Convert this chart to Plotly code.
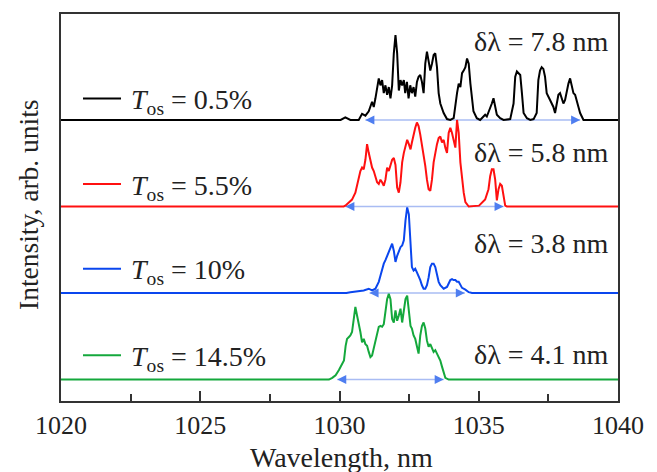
import plotly.graph_objects as go

# ---------------- data ----------------
tos_labels = ["0.5%", "5.5%", "10%", "14.5%"]
dl_values = ["7.8", "5.8", "3.8", "4.1"]

wl_black = [1020.0, 1030.04, 1030.21, 1030.39, 1030.69, 1030.81, 1030.93, 1031.05, 1031.17, 1031.23,
            1031.29, 1031.41, 1031.47, 1031.53, 1031.59, 1031.65, 1031.71, 1031.77, 1031.83, 1031.89,
            1031.95, 1032.01, 1032.07, 1032.13, 1032.19, 1032.25, 1032.31, 1032.36, 1032.42, 1032.48,
            1032.54, 1032.60, 1032.66, 1032.72, 1032.78, 1032.84, 1032.90, 1032.96, 1033.02, 1033.08,
            1033.14, 1033.20, 1033.26, 1033.32, 1033.38, 1033.44, 1033.50, 1033.56, 1033.62, 1033.74,
            1033.86, 1033.98, 1034.10, 1034.22, 1034.28, 1034.34, 1034.40, 1034.46, 1034.52, 1034.58,
            1034.64, 1034.70, 1034.76, 1034.81, 1034.93, 1035.05, 1035.17, 1035.23, 1035.29, 1035.41,
            1035.47, 1035.53, 1035.59, 1035.65, 1035.77, 1035.89, 1036.13, 1036.25, 1036.31, 1036.37,
            1036.43, 1036.49, 1036.55, 1036.61, 1036.73, 1036.85, 1036.97, 1037.08, 1037.14, 1037.20,
            1037.26, 1037.32, 1037.38, 1037.44, 1037.56, 1037.68, 1037.74, 1037.80, 1037.86, 1037.92,
            1037.98, 1038.04, 1038.10, 1038.16, 1038.22, 1038.28, 1038.34, 1038.40, 1038.46, 1038.52,
            1038.58, 1038.64, 1038.76, 1040.0]
int_black = [0.0, 0.0, 0.03, 0.0, 0.0, 0.07, 0.05, 0.10, 0.21, 0.15,
             0.25, 0.48, 0.40, 0.46, 0.31, 0.40, 0.29, 0.38, 0.25, 0.40,
             0.77, 0.98, 0.77, 0.34, 0.46, 0.40, 0.46, 0.31, 0.44, 0.25,
             0.40, 0.31, 0.38, 0.27, 0.44, 0.50, 0.52, 0.44, 0.31, 0.65,
             0.79, 0.69, 0.57, 0.65, 0.75, 0.77, 0.61, 0.31, 0.19, 0.08,
             0.01, 0.0, 0.02, 0.31, 0.42, 0.38, 0.54, 0.57, 0.61, 0.71,
             0.65, 0.42, 0.19, 0.10, 0.02, 0.0, 0.04, 0.06, 0.04, 0.13,
             0.19, 0.25, 0.15, 0.06, 0.02, 0.0, 0.01, 0.19, 0.50, 0.56,
             0.54, 0.52, 0.31, 0.08, 0.02, 0.0, 0.01, 0.08, 0.46, 0.57,
             0.61, 0.59, 0.50, 0.31, 0.23, 0.15, 0.08, 0.19, 0.29, 0.31,
             0.25, 0.19, 0.23, 0.34, 0.42, 0.48, 0.40, 0.31, 0.29, 0.23,
             0.15, 0.08, 0.0, 0.0]

wl_red = [1020.0, 1030.15, 1030.21, 1030.33, 1030.45, 1030.57, 1030.69, 1030.75, 1030.81, 1030.87,
          1030.93, 1030.99, 1031.05, 1031.11, 1031.17, 1031.23, 1031.29, 1031.35, 1031.41, 1031.47,
          1031.53, 1031.59, 1031.65, 1031.71, 1031.77, 1031.89, 1031.95, 1032.01, 1032.07, 1032.13,
          1032.19, 1032.25, 1032.31, 1032.37, 1032.43, 1032.49, 1032.55, 1032.60, 1032.66, 1032.72,
          1032.78, 1032.84, 1032.90, 1032.96, 1033.02, 1033.08, 1033.14, 1033.20, 1033.26, 1033.32,
          1033.38, 1033.44, 1033.50, 1033.56, 1033.62, 1033.68, 1033.74, 1033.80, 1033.86, 1033.92,
          1033.98, 1034.04, 1034.10, 1034.16, 1034.22, 1034.28, 1034.34, 1034.40, 1034.46, 1034.52,
          1034.64, 1035.01, 1035.11, 1035.23, 1035.35, 1035.41, 1035.47, 1035.53, 1035.59, 1035.65,
          1035.71, 1035.77, 1035.83, 1035.89, 1035.95, 1036.01, 1040.0]
int_red = [0.0, 0.0, 0.01, 0.04, 0.08, 0.16, 0.31, 0.41, 0.45, 0.43,
           0.54, 0.72, 0.62, 0.51, 0.45, 0.41, 0.35, 0.28, 0.26, 0.31,
           0.28, 0.24, 0.31, 0.45, 0.41, 0.54, 0.56, 0.48, 0.22, 0.16,
           0.28, 0.51, 0.62, 0.70, 0.77, 0.72, 0.66, 0.74, 0.85, 0.91,
           0.97, 0.93, 0.83, 0.72, 0.62, 0.47, 0.31, 0.20, 0.18, 0.31,
           0.51, 0.64, 0.72, 0.79, 0.81, 0.74, 0.77, 0.68, 0.62, 0.85,
           0.91, 0.85, 0.77, 0.68, 1.00, 0.85, 0.51, 0.31, 0.16, 0.05,
           0.0, 0.01, 0.04, 0.08, 0.20, 0.35, 0.43, 0.43, 0.31, 0.07,
           0.20, 0.26, 0.24, 0.12, 0.01, 0.0, 0.0]

wl_blue = [1020.0, 1030.25, 1030.39, 1030.63, 1030.87, 1031.05, 1031.17, 1031.29, 1031.41, 1031.47,
           1031.53, 1031.59, 1031.65, 1031.71, 1031.77, 1031.83, 1031.89, 1031.95, 1032.01, 1032.07,
           1032.13, 1032.19, 1032.25, 1032.31, 1032.37, 1032.43, 1032.49, 1032.55, 1032.60, 1032.66,
           1032.72, 1032.78, 1032.84, 1032.90, 1032.96, 1033.02, 1033.08, 1033.14, 1033.20, 1033.26,
           1033.32, 1033.38, 1033.44, 1033.50, 1033.56, 1033.62, 1033.74, 1033.86, 1033.92, 1033.98,
           1034.04, 1034.10, 1034.16, 1034.22, 1034.28, 1034.34, 1034.40, 1034.52, 1034.64, 1034.76,
           1040.0]
int_blue = [0.0, 0.0, 0.01, 0.02, 0.03, 0.05, 0.03, 0.05, 0.13, 0.20,
            0.28, 0.34, 0.38, 0.43, 0.49, 0.53, 0.57, 0.49, 0.36, 0.43,
            0.49, 0.53, 0.55, 0.61, 0.84, 0.99, 0.91, 0.64, 0.30, 0.26,
            0.28, 0.24, 0.20, 0.15, 0.09, 0.05, 0.05, 0.09, 0.18, 0.30,
            0.34, 0.34, 0.30, 0.20, 0.13, 0.09, 0.05, 0.07, 0.11, 0.15,
            0.16, 0.15, 0.15, 0.13, 0.13, 0.09, 0.06, 0.04, 0.01, 0.0,
            0.0]

wl_green = [1020.0, 1029.62, 1029.74, 1029.86, 1029.98, 1030.10, 1030.16, 1030.22, 1030.27, 1030.33,
            1030.39, 1030.45, 1030.51, 1030.57, 1030.63, 1030.69, 1030.75, 1030.81, 1030.87, 1030.93,
            1030.99, 1031.05, 1031.11, 1031.17, 1031.23, 1031.29, 1031.35, 1031.41, 1031.47, 1031.53,
            1031.59, 1031.65, 1031.71, 1031.77, 1031.83, 1031.89, 1031.95, 1032.01, 1032.07, 1032.13,
            1032.19, 1032.25, 1032.31, 1032.37, 1032.43, 1032.49, 1032.55, 1032.60, 1032.66, 1032.72,
            1032.78, 1032.84, 1032.90, 1032.96, 1033.02, 1033.08, 1033.14, 1033.20, 1033.26, 1033.32,
            1033.38, 1033.44, 1033.50, 1033.56, 1033.62, 1033.68, 1033.74, 1033.80, 1033.92, 1040.0]
int_green = [0.0, 0.0, 0.02, 0.05, 0.11, 0.18, 0.22, 0.39, 0.47, 0.49,
             0.51, 0.55, 0.70, 0.84, 0.74, 0.66, 0.55, 0.43, 0.47, 0.41,
             0.39, 0.32, 0.26, 0.28, 0.36, 0.43, 0.51, 0.61, 0.62, 0.61,
             0.64, 0.78, 0.93, 0.99, 0.93, 0.70, 0.66, 0.80, 0.68, 0.74,
             0.82, 0.66, 0.82, 0.93, 0.97, 0.78, 0.62, 0.59, 0.51, 0.47,
             0.36, 0.30, 0.51, 0.62, 0.66, 0.59, 0.45, 0.38, 0.41, 0.36,
             0.32, 0.34, 0.30, 0.26, 0.22, 0.15, 0.07, 0.02, 0.0, 0.0]

# spectral width markers (start, end) in nm
dl_start = [1030.93, 1030.21, 1031.08, 1029.92]
dl_end = [1038.64, 1035.89, 1034.50, 1033.74]

# ---------------- styling ----------------
colors = ["#000000", "#ff1010", "#0a46ee", "#14a83c"]
offsets = [3.0, 2.0, 1.0, 0.0]
spectra = [(wl_black, int_black), (wl_red, int_red), (wl_blue, int_blue), (wl_green, int_green)]
FONT = "Liberation Serif, Times New Roman, serif"
TXT = "#222222"

fig = go.Figure()

# width arrows first (below spectra)
for s, e, off in zip(dl_start, dl_end, offsets):
    fig.add_trace(go.Scatter(
        x=[s, e], y=[off, off], mode="lines+markers",
        line=dict(color="#a9bcf3", width=1.5),
        marker=dict(symbol=["arrow-left", "arrow-right"], size=9, color="#4f7ef0",
                    line=dict(width=0)),
        hoverinfo="skip", showlegend=False))

for (wl, it), off, c in zip(spectra, offsets, colors):
    fig.add_trace(go.Scatter(
        x=wl, y=[v + off for v in it], mode="lines",
        line=dict(color=c, width=2), showlegend=False))

# geometry helpers (pixel -> paper)
L, R, T, B = 61, 618, 12, 401
W, H = R - L, B - T
def px(x): return (x - L) / W
def py(y): return (B - y) / H

leg_y = [97, 183, 268, 355]
dl_y = [40, 151, 243, 354]

shapes = []
annotations = []
for lab, c, ly in zip(tos_labels, colors, leg_y):
    shapes.append(dict(type="line", xref="paper", yref="paper",
                       x0=px(83), x1=px(121), y0=py(ly), y1=py(ly),
                       line=dict(color=c, width=2)))
    annotations.append(dict(xref="paper", yref="paper", x=px(129), y=py(ly + 3),
                            xanchor="left", yanchor="middle", showarrow=False,
                            text=f"<i>T</i><sub>os</sub> = {lab}",
                            font=dict(family=FONT, size=28, color=TXT)))
for v, dy in zip(dl_values, dl_y):
    annotations.append(dict(xref="paper", yref="paper", x=px(611), y=py(dy),
                            xanchor="right", yanchor="middle", showarrow=False,
                            text=f"δλ = {v} nm",
                            font=dict(family=FONT, size=28, color=TXT)))

annotations.append(dict(xref="paper", yref="paper", x=px(341), y=py(458),
                        xanchor="center", yanchor="middle", showarrow=False,
                        text="Wavelength, nm", font=dict(family=FONT, size=28, color=TXT)))
annotations.append(dict(xref="paper", yref="paper", x=px(28), y=py(204),
                        xanchor="center", yanchor="middle", showarrow=False, textangle=-90,
                        text="Intensity, arb. units", font=dict(family=FONT, size=27.5, color=TXT)))

fig.update_layout(
    width=657, height=472,
    margin=dict(l=L, r=657 - R, t=T, b=472 - B, pad=0),
    paper_bgcolor="white", plot_bgcolor="white",
    shapes=shapes, annotations=annotations,
    showlegend=False,
    xaxis=dict(range=[1020, 1040], tickvals=[1020, 1025, 1030, 1035, 1040],
               ticks="inside", ticklen=10, tickwidth=1.5, tickcolor="#333",
               minor=dict(dtick=2.5, tick0=1020, ticks="inside", ticklen=7, tickwidth=1.5,
                          tickcolor="#333", showgrid=False),
               showgrid=False, zeroline=False, showline=True, mirror=True,
               linecolor="#333", linewidth=2,
               tickfont=dict(family=FONT, size=26, color=TXT)),
    yaxis=dict(range=[-21.5 / 87, 367.5 / 87], showticklabels=False, ticks="",
               showgrid=False, zeroline=False, showline=True, mirror=True,
               linecolor="#333", linewidth=2),
)

fig.write_html("out.html")
